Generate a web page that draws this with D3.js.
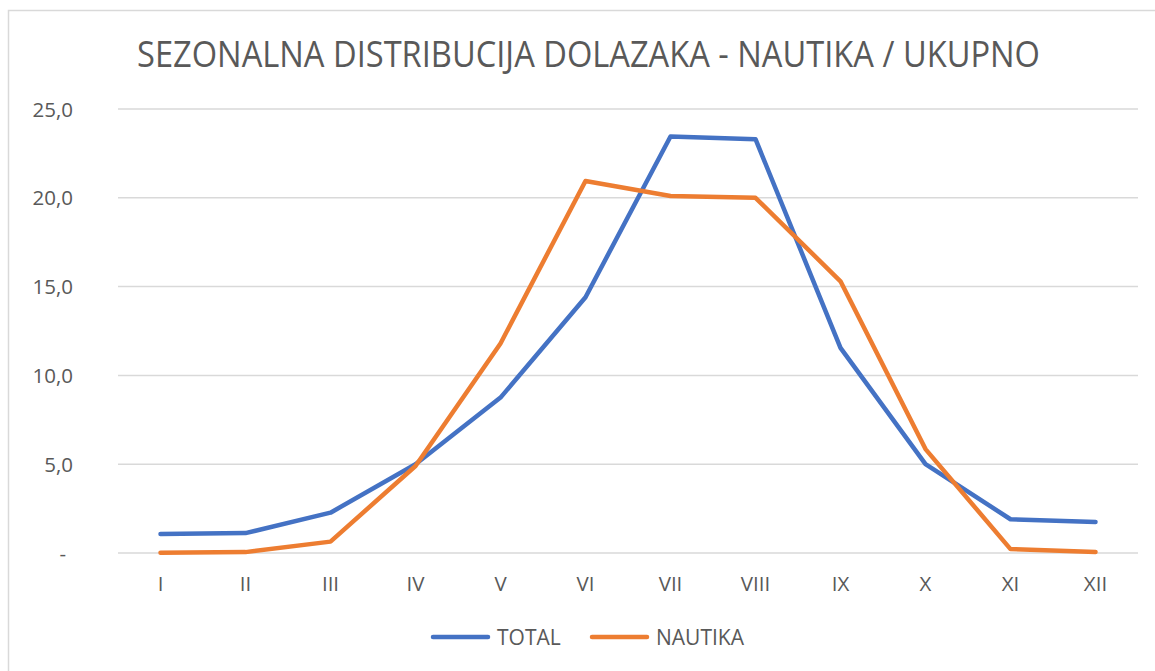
<!DOCTYPE html>
<html>
<head>
<meta charset="utf-8">
<script src="https://cdn.jsdelivr.net/npm/d3@7"></script>
<style>
  body { margin: 0; background: #fff; }
  svg text { font-family: "Open Sans", sans-serif; fill: #595959; }
</style>
</head>
<body>
<svg id="chart" width="1155" height="671"></svg>
<script>
// months (roman numerals) and the two series
var months = ["I", "II", "III", "IV", "V", "VI", "VII", "VIII", "IX", "X", "XI", "XII"];
var total = [1.07, 1.12, 2.27, 5.0, 8.75, 14.4, 23.45, 23.3, 11.55, 5.0, 1.9, 1.75];
var nautika = [0.02, 0.05, 0.64, 4.9, 11.8, 20.95, 20.1, 20.0, 15.3, 5.85, 0.22, 0.06];
var yTicks = [0, 5, 10, 15, 20, 25];
var seriesNames = ["TOTAL", "NAUTIKA"];
var colors = ["#4472C4", "#ED7D31"];

var svg = d3.select("#chart");

// outer chart frame (runs off the right and bottom edge like the source)
svg.append("rect")
	.attr("x", 8.5).attr("y", 10.5)
	.attr("width", 1200).attr("height", 700)
	.attr("fill", "#fff")
	.attr("stroke", "#d9d9d9")
	.attr("stroke-width", 1.5);

var x = d3.scaleBand().domain(months).range([118, 1138]),
	y = d3.scaleLinear().domain([0, 25]).range([553, 109]);

// title
svg.append("text")
	.attr("x", 137).attr("y", 67)
	.attr("font-size", 36)
	.attr("textLength", 903)
	.attr("lengthAdjust", "spacingAndGlyphs")
	.text("SEZONALNA DISTRIBUCIJA DOLAZAKA - NAUTIKA / UKUPNO");

// horizontal gridlines
svg.append("g")
	.selectAll("line")
	.data(yTicks)
	.enter().append("line")
	.attr("x1", 118).attr("x2", 1138)
	.attr("y1", function(d) { return y(d); })
	.attr("y2", function(d) { return y(d); })
	.attr("stroke", "#d9d9d9")
	.attr("stroke-width", 1.5);

// y axis labels
var yAxis = d3.axisLeft(y)
	.tickValues(yTicks)
	.tickSize(0)
	.tickPadding(0)
	.tickFormat(function(d) { return d === 0 ? "-" : d3.format(".1f")(d).replace(".", ","); });

var gy = svg.append("g")
	.attr("transform", "translate(73,0)")
	.call(yAxis);
gy.select(".domain").remove();
gy.selectAll("text")
	.attr("font-size", 20.5)
	.attr("font-family", "Open Sans, sans-serif")
	.attr("fill", "#595959")
	.attr("dy", "0.35em")
	.attr("dx", function(d) { return d === 0 ? -7 : 0; });

// x axis labels
var xAxis = d3.axisBottom(x).tickSize(0).tickPadding(0);
var gx = svg.append("g")
	.attr("transform", "translate(0,576)")
	.call(xAxis);
gx.select(".domain").remove();
gx.selectAll("text")
	.attr("font-size", 20.5)
	.attr("font-family", "Open Sans, sans-serif")
	.attr("fill", "#595959")
	.attr("dy", "0.72em");

// lines
var line = d3.line()
	.x(function(d, i) { return x(months[i]) + x.bandwidth() / 2; })
	.y(function(d) { return y(d); });

[total, nautika].forEach(function(s, i) {
	svg.append("path")
		.datum(s)
		.attr("d", line)
		.attr("fill", "none")
		.attr("stroke", colors[i])
		.attr("stroke-width", 4.5)
		.attr("stroke-linejoin", "round")
		.attr("stroke-linecap", "round");
});

// legend
var legendX = [433, 592];
var lg = svg.append("g");
seriesNames.forEach(function(name, i) {
	lg.append("line")
		.attr("x1", legendX[i]).attr("x2", legendX[i] + 55)
		.attr("y1", 637).attr("y2", 637)
		.attr("stroke", colors[i])
		.attr("stroke-width", 4.5)
		.attr("stroke-linecap", "round");
	lg.append("text")
		.attr("x", legendX[i] + 64).attr("y", 644.5)
		.attr("font-size", 21)
		.text(name);
});
</script>
</body>
</html>
